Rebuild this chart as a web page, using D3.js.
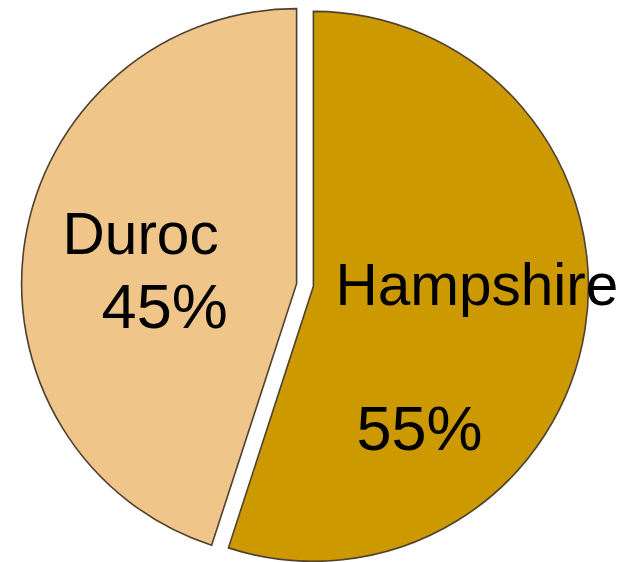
<!DOCTYPE html>
<html>
<head>
<meta charset="utf-8">
<script src="https://cdn.jsdelivr.net/npm/d3@7"></script>
<style>
  html, body { margin: 0; padding: 0; background: #fff; }
  svg { display: block; }
</style>
</head>
<body>
<svg id="chart" width="637" height="562"></svg>
<script>
// Data
const categories = ["Hampshire", "Duroc"];
const values = [55, 45];
const percentLabels = ["55%", "45%"];

// Styles / layout
const colors = ["#CC9900", "#F0C589"];
const W = 637, H = 562;
const cx = 305, cy = 285, radius = 275, explode = 8.5;
// label offsets (relative to exploded slice centre)
const nameOffsets = [[22, 19], [-234, -30]];
const pctOffsets = [[43, 164], [-195, 44]];

const svg = d3.select("#chart");
const pie = d3.pie().sort(null).value(d => d.value);
const arcs = pie(categories.map((c, i) => ({ name: c, value: values[i], pct: percentLabels[i] })));
const arc = d3.arc().innerRadius(0).outerRadius(radius);

const g = svg.append("g").attr("transform", `translate(${cx},${cy})`);

const slices = g.selectAll("g.slice").data(arcs).join("g")
  .attr("class", "slice")
  .attr("transform", d => {
    const mid = (d.startAngle + d.endAngle) / 2;
    return `translate(${Math.sin(mid) * explode},${-Math.cos(mid) * explode})`;
  });

slices.append("path")
  .attr("d", arc)
  .attr("fill", (d, i) => colors[i])
  .attr("stroke", "#4f4130")
  .attr("stroke-width", 1.6)
  .attr("stroke-linejoin", "miter");

slices.append("text")
  .attr("x", (d, i) => nameOffsets[i][0])
  .attr("y", (d, i) => nameOffsets[i][1])
  .attr("font-family", "Liberation Sans, Arial, sans-serif")
  .attr("font-size", 58.5)
  .attr("fill", "#000")
  .text(d => d.data.name);

slices.append("text")
  .attr("x", (d, i) => pctOffsets[i][0])
  .attr("y", (d, i) => pctOffsets[i][1])
  .attr("font-family", "Liberation Sans, Arial, sans-serif")
  .attr("font-size", 63)
  .attr("fill", "#000")
  .text(d => d.data.pct);
</script>
</body>
</html>
